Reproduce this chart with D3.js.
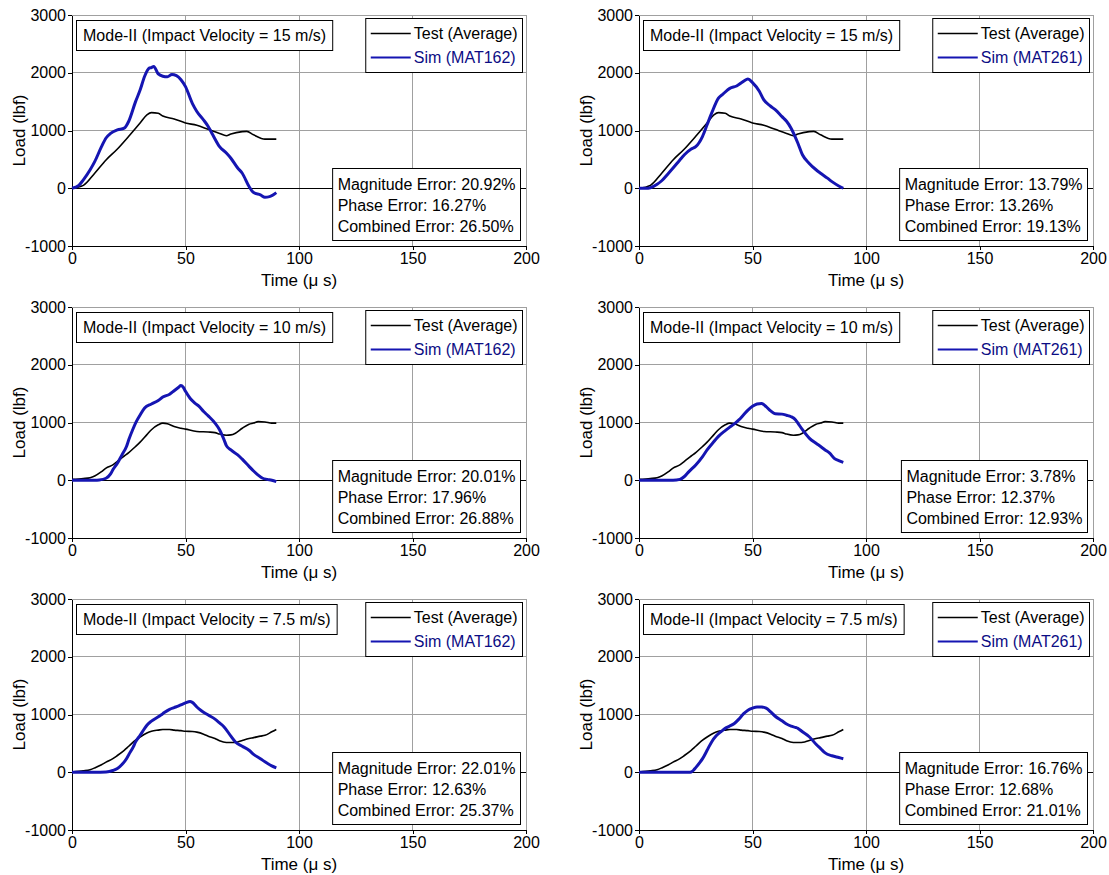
<!DOCTYPE html>
<meta charset="utf-8">
<style>
body { margin: 0; background: #fff; }
svg text { font-family: "Liberation Sans", Arial, sans-serif; fill: #000; }
.tick text { font-size: 16px; }
.tick line, .domain { stroke: #000; }
</style>
<body>
<svg width="1109" height="875"></svg>
<script src="https://d3js.org/d3.v7.min.js"></script>
<script>

var velocities = ["15", "10", "7.5"];
var materials = ["MAT162", "MAT261"];
var xTicks = [0, 50, 100, 150, 200];
var yTicks = [-1000, 0, 1000, 2000, 3000];

// Test (Average), one curve per velocity
var tTest15 = [0, 5, 10, 15, 20, 25, 30, 33, 35, 38, 40, 45, 50, 55, 60, 65, 68, 70, 75, 77, 80, 85, 88, 90];
var test15 = [0, 50, 260, 490, 680, 900, 1130, 1270, 1310, 1300, 1250, 1200, 1130, 1090, 1020, 950, 910, 940, 980, 985, 925, 850, 850, 850];

var tTest10 = [0, 5, 8, 10, 13, 15, 18, 20, 23, 25, 28, 30, 33, 35, 38, 40, 42, 45, 48, 50, 55, 60, 63, 65, 68, 70, 72, 75, 78, 80, 82, 85, 88, 90];
var test10 = [15, 30, 45, 75, 150, 210, 265, 325, 420, 480, 585, 660, 790, 875, 960, 990, 980, 930, 900, 885, 845, 835, 825, 800, 780, 785, 815, 900, 970, 990, 1015, 1010, 990, 990];

var tTest75 = [0, 5, 8, 10, 13, 15, 18, 20, 23, 25, 28, 30, 33, 35, 38, 40, 43, 45, 48, 50, 53, 55, 58, 60, 63, 65, 68, 70, 73, 75, 78, 80, 83, 85, 88, 90];
var test75 = [5, 25, 45, 75, 130, 175, 235, 290, 380, 450, 555, 610, 680, 710, 730, 740, 740, 730, 720, 710, 705, 695, 660, 625, 585, 545, 515, 515, 525, 550, 585, 600, 625, 640, 700, 740];

// Sim (MAT162)
var tSim162v15 = [0, 3, 5, 8, 10, 13, 15, 17, 20, 23, 25, 28, 30, 32, 34, 35, 36, 38, 40, 42, 44, 46, 48, 50, 53, 55, 58, 60, 62, 65, 68, 70, 73, 75, 78, 80, 83, 85, 87, 90];
var sim162v15 = [0, 50, 145, 320, 460, 720, 870, 950, 1010, 1040, 1160, 1500, 1700, 1940, 2080, 2090, 2110, 1980, 1940, 1930, 1970, 1950, 1880, 1760, 1470, 1330, 1180, 1070, 925, 720, 610, 520, 350, 260, 30, -75, -115, -155, -145, -75];

var tSim162v10 = [0, 10, 12, 15, 17, 18, 20, 22, 24, 25, 27, 28, 30, 32, 35, 38, 40, 43, 45, 47, 48, 49, 50, 52, 54, 56, 58, 60, 63, 65, 67, 68, 70, 73, 75, 78, 80, 82, 84, 86, 88, 90];
var sim162v10 = [0, 0, 5, 35, 110, 180, 295, 440, 585, 700, 900, 990, 1130, 1250, 1320, 1380, 1440, 1490, 1550, 1610, 1640, 1610, 1540, 1420, 1340, 1280, 1190, 1115, 990, 875, 700, 600, 525, 440, 365, 240, 160, 90, 35, 15, 0, -25];

var tSim162v75 = [0, 10, 15, 18, 20, 22, 24, 25, 27, 28, 30, 32, 33, 35, 38, 40, 43, 45, 47, 49, 50, 52, 53, 55, 57, 60, 63, 65, 67, 70, 72, 75, 78, 80, 83, 85, 88, 90];
var sim162v75 = [0, 0, 5, 30, 65, 135, 235, 305, 440, 525, 640, 760, 815, 885, 960, 1015, 1090, 1120, 1150, 1185, 1200, 1225, 1210, 1130, 1065, 990, 920, 855, 785, 625, 525, 450, 380, 310, 235, 180, 110, 75];

// Sim (MAT261)
var tSim261v15 = [0, 3, 5, 8, 10, 13, 15, 18, 20, 23, 25, 28, 30, 32, 35, 37, 40, 43, 46, 48, 50, 53, 55, 58, 60, 63, 65, 67, 70, 72, 75, 78, 80, 83, 85, 88, 90];
var sim261v15 = [0, 0, 10, 70, 130, 260, 350, 490, 580, 680, 720, 900, 1100, 1300, 1560, 1630, 1730, 1770, 1850, 1890, 1830, 1680, 1530, 1420, 1360, 1240, 1160, 1040, 780, 580, 430, 320, 260, 175, 115, 40, 0];

var tSim261v10 = [0, 10, 15, 18, 20, 22, 25, 28, 30, 33, 35, 38, 40, 42, 44, 46, 48, 50, 52, 54, 56, 58, 60, 63, 65, 67, 69, 70, 72, 75, 78, 80, 82, 84, 86, 88, 90];
var sim261v10 = [0, 0, 0, 15, 65, 150, 265, 410, 525, 670, 760, 860, 920, 975, 1045, 1130, 1215, 1280, 1320, 1330, 1275, 1200, 1150, 1145, 1125, 1100, 1045, 990, 875, 730, 640, 585, 525, 470, 380, 340, 310];

var tSim261v75 = [0, 15, 20, 22, 23, 24, 25, 27, 28, 30, 32, 34, 35, 37, 38, 40, 42, 44, 46, 48, 50, 52, 54, 56, 58, 60, 63, 65, 67, 69, 70, 72, 75, 78, 80, 82, 85, 88, 90];
var sim261v75 = [0, 0, 0, 0, 5, 35, 80, 180, 235, 380, 525, 630, 670, 730, 760, 800, 845, 920, 1010, 1075, 1110, 1130, 1130, 1110, 1045, 970, 890, 835, 800, 775, 760, 700, 615, 485, 410, 335, 285, 255, 235];

// errors, rows = velocity, columns = material
var magErr = [["20.92", "13.79"], ["20.01", "3.78"], ["22.01", "16.76"]];
var phaseErr = [["16.27", "13.26"], ["17.96", "12.37"], ["12.63", "12.68"]];
var combErr = [["26.50", "19.13"], ["26.88", "12.93"], ["25.37", "21.01"]];

var testT = [tTest15, tTest10, tTest75], testV = [test15, test10, test75];
var simT = [[tSim162v15, tSim261v15], [tSim162v10, tSim261v10], [tSim162v75, tSim261v75]];
var simV = [[sim162v15, sim261v15], [sim162v10, sim261v10], [sim162v75, sim261v75]];

var svg = d3.select("svg");
svg.append("rect").attr("width", 1109).attr("height", 875).attr("fill", "#fff");

var colX = [72, 639], rowY = [15, 307, 599],
    pw = 454, ph = 231,
    gridColor = "#a0a0a0", simColor = "#1515b2", simText = "#0c0c84";

var x = d3.scaleLinear().domain([0, 200]).range([0, pw]);
var y = d3.scaleLinear().domain([-1000, 3000]).range([ph, 0]);

var line = d3.line()
    .x(function(d) { return x(d[0]); })
    .y(function(d) { return y(d[1]); })
    .curve(d3.curveMonotoneX);

function pairs(t, v) { return t.map(function(d, i) { return [d, v[i]]; }); }

for (var r = 0; r < 3; r++) {
  for (var c = 0; c < 2; c++) {
    var g = svg.append("g").attr("transform", "translate(" + colX[c] + "," + rowY[r] + ")");

    // grid
    g.selectAll(".vg").data(xTicks.slice(1)).enter().append("line")
        .attr("x1", x).attr("x2", x).attr("y1", 0).attr("y2", ph)
        .attr("stroke", gridColor).attr("shape-rendering", "crispEdges");
    g.selectAll(".hg").data([1000, 2000, 3000]).enter().append("line")
        .attr("x1", 0).attr("x2", pw).attr("y1", y).attr("y2", y)
        .attr("stroke", gridColor).attr("shape-rendering", "crispEdges");
    g.append("line")
        .attr("x1", 0).attr("x2", pw).attr("y1", y(0)).attr("y2", y(0))
        .attr("stroke", "#000").attr("shape-rendering", "crispEdges");

    // axes
    g.append("g")
        .call(d3.axisLeft(y).tickValues(yTicks).tickSize(4).tickSizeOuter(0).tickPadding(2)
          .tickFormat(function(d) { return String(d); }))
        .attr("shape-rendering", "crispEdges");
    g.append("g")
        .attr("transform", "translate(0," + ph + ")")
        .call(d3.axisBottom(x).tickValues(xTicks).tickSize(4).tickSizeOuter(0).tickPadding(3)
          .tickFormat(function(d) { return String(d); }))
        .attr("shape-rendering", "crispEdges");
    g.selectAll(".tick text").attr("font-size", 16).attr("fill", "#000");

    g.append("text")
        .attr("transform", "translate(-53," + ph / 2 + ") rotate(-90)")
        .attr("text-anchor", "middle").attr("dy", "0.35em")
        .attr("font-size", 17).text("Load (lbf)");
    g.append("text")
        .attr("x", pw / 2).attr("y", ph + 40)
        .attr("text-anchor", "middle")
        .attr("font-size", 17).text("Time (\u03bc s)");

    // curves
    g.append("path").datum(pairs(testT[r], testV[r]))
        .attr("d", line).attr("fill", "none").attr("stroke", "#000").attr("stroke-width", 1.6);
    g.append("path").datum(pairs(simT[r][c], simV[r][c]))
        .attr("d", line).attr("fill", "none").attr("stroke", simColor).attr("stroke-width", 3)
        .attr("stroke-linejoin", "round");

    // title box
    var tb = g.append("g");
    var tRect = tb.append("rect").attr("fill", "#fff").attr("stroke", "#000");
    var tTxt = tb.append("text").attr("x", 11).attr("y", 26).attr("font-size", 16)
        .text("Mode-II (Impact Velocity = " + velocities[r] + " m/s)");
    var tw = tTxt.node().getComputedTextLength();
    tRect.attr("x", 4.5).attr("y", 5.5).attr("width", tw + 13).attr("height", 30);

    // legend
    var lg = g.append("g");
    var lRect = lg.append("rect").attr("fill", "#fff").attr("stroke", "#000");
    var l1 = lg.append("text").attr("font-size", 16).text("Test (Average)");
    var l2 = lg.append("text").attr("font-size", 16).style("fill", simText)
        .text("Sim (" + materials[c] + ")");
    var lw = Math.max(l1.node().getComputedTextLength(), l2.node().getComputedTextLength());
    var lRight = pw - 3.5, lLeft = lRight - (lw + 5 + 3 + 40 + 5);
    lRect.attr("x", lLeft).attr("y", 3.5).attr("width", lRight - lLeft).attr("height", 54);
    lg.append("line").attr("x1", lLeft + 5).attr("x2", lLeft + 45).attr("y1", 18.5).attr("y2", 18.5)
        .attr("stroke", "#000").attr("stroke-width", 1.6);
    lg.append("line").attr("x1", lLeft + 5).attr("x2", lLeft + 45).attr("y1", 42.5).attr("y2", 42.5)
        .attr("stroke", simColor).attr("stroke-width", 2.2);
    l1.attr("x", lLeft + 48).attr("y", 24);
    l2.attr("x", lLeft + 48).attr("y", 48);

    // error box
    var eb = g.append("g");
    var eRect = eb.append("rect").attr("fill", "#fff").attr("stroke", "#000");
    var lines = ["Magnitude Error: " + magErr[r][c] + "%",
                 "Phase Error: " + phaseErr[r][c] + "%",
                 "Combined Error: " + combErr[r][c] + "%"];
    var eTexts = eb.selectAll("text").data(lines).enter().append("text")
        .attr("font-size", 16)
        .attr("y", function(d, i) { return 175 + i * 21; })
        .text(function(d) { return d; });
    var ew = d3.max(eTexts.nodes(), function(n) { return n.getComputedTextLength(); });
    var eRight = pw - 5.5, eLeft = eRight - ew - 10;
    eRect.attr("x", eLeft).attr("y", 153.5).attr("width", eRight - eLeft).attr("height", 72);
    eTexts.attr("x", eLeft + 5);

    // top and right border
    g.append("path")
        .attr("d", "M0.5,0.5H" + (pw + 0.5) + "V" + ph)
        .attr("fill", "none").attr("stroke", gridColor);
  }
}

</script>
</body>
